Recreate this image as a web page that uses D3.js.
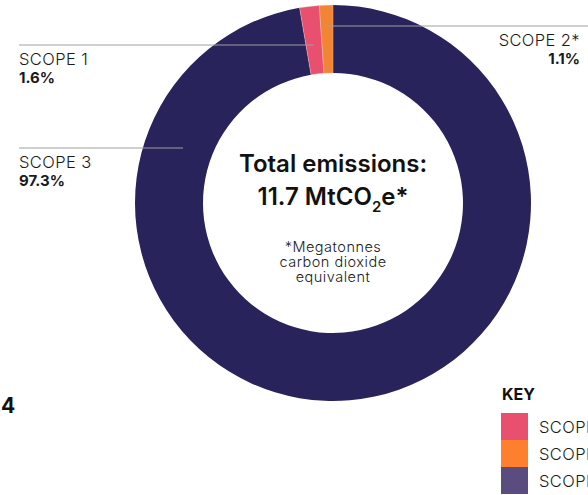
<!DOCTYPE html>
<html>
<head>
<meta charset="utf-8">
<script src="https://cdn.jsdelivr.net/npm/d3@7"></script>
<style>
  body { margin: 0; background: #fff; }
  svg { display: block; font-family: Inter, "Noto Sans", sans-serif; }
</style>
</head>
<body>
<div id="my_donut"></div>
<script>
// emissions split, clockwise from 12 o'clock
var scopes = ["SCOPE 3", "SCOPE 1", "SCOPE 2"];
var shares = [97.3, 1.6, 1.1];
var labelText = ["SCOPE 3", "SCOPE 1", "SCOPE 2*"];
var keyNames = ["SCOPE 1", "SCOPE 2", "SCOPE 3"];
var totalValue = "11.7";
var footnote = ["*Megatonnes", "carbon dioxide", "equivalent"];

var width = 588, height = 495;
var cx = 333, cy = 203, outerR = 198, innerR = 130;

var svg = d3.select("#my_donut")
  .append("svg")
    .attr("width", width)
    .attr("height", height);

var ringColor = d3.scaleOrdinal()
  .domain(scopes)
  .range(["#29235c", "#e9506f", "#f18534"]);

var keyColor = d3.scaleOrdinal()
  .domain(keyNames)
  .range(["#e9506f", "#fe7f2d", "#5a4c7e"]);

var pie = d3.pie().sort(null).value(function(d){ return d.v; });
var arcs = pie(scopes.map(function(s, i){ return {k: s, v: shares[i], label: labelText[i]}; }));
var arc = d3.arc().innerRadius(innerR).outerRadius(outerR);

var g = svg.append("g").attr("transform", "translate(" + cx + "," + cy + ")");

g.selectAll("path")
  .data(arcs)
  .enter()
  .append("path")
    .attr("d", arc)
    .style("fill", function(d){ return ringColor(d.data.k); })
    .style("stroke", function(d){ return d.data.k == "SCOPE 3" ? "none" : "#f4c9c4"; })
    .style("stroke-width", 0.4);

// leader lines + labels
var lineY = {"SCOPE 1": 45, "SCOPE 2": 26, "SCOPE 3": 148};
arcs.forEach(function(d){
  var k = d.data.k;
  var y = lineY[k];
  var right = k == "SCOPE 2";
  var ang = (d.startAngle + d.endAngle) / 2;
  // middle of the thin slices, inside the ring for scope 3
  var xm = k == "SCOPE 3" ? cx - innerR - 20 : cx + Math.tan(ang) * (cy - y);
  svg.append("line")
    .attr("x1", right ? width : 19).attr("x2", xm)
    .attr("y1", y).attr("y2", y)
    .style("stroke", "#a0a0a0").style("stroke-width", 1);
  var tx = right ? 580 : 19;
  var anchor = right ? "end" : "start";
  svg.append("text")
    .attr("x", tx).attr("y", y + 20)
    .attr("text-anchor", anchor)
    .style("font-size", "16.5px").style("font-weight", 300).style("letter-spacing", "0.4px")
    .style("fill", "#1a1a1a")
    .text(d.data.label);
  svg.append("text")
    .attr("x", tx).attr("y", y + 38)
    .attr("text-anchor", anchor)
    .style("font-size", "15px").style("font-weight", 700).style("fill", "#1a1a1a")
    .text(d.data.v + "%");
});

// centre text
svg.append("text")
  .attr("x", cx).attr("y", 172)
  .attr("text-anchor", "middle")
  .style("font-size", "24px").style("font-weight", 600).style("fill", "#111")
  .text("Total emissions:");

var t2 = svg.append("text")
  .attr("x", cx).attr("y", 205)
  .attr("text-anchor", "middle")
  .style("font-size", "24px").style("font-weight", 600).style("fill", "#111");
t2.append("tspan").text(totalValue + " MtCO");
t2.append("tspan").attr("dy", 7).style("font-size", "15px").text("2");
t2.append("tspan").attr("dy", -7).text("e*");

svg.selectAll(".foot")
  .data(footnote)
  .enter()
  .append("text")
    .attr("class", "foot")
    .attr("x", cx)
    .attr("y", function(d, i){ return 252 + i * 15; })
    .attr("text-anchor", "middle")
    .style("font-size", "14.5px").style("font-weight", 300).style("letter-spacing", "0.5px")
    .style("fill", "#1a1a1a")
    .text(function(d){ return d; });

// page number fragment
svg.append("text")
  .attr("x", 1).attr("y", 413)
  .style("font-size", "21px").style("font-weight", 700).style("fill", "#111")
  .text("4");

// key
svg.append("text")
  .attr("x", 502).attr("y", 400)
  .style("font-size", "16px").style("font-weight", 700).style("fill", "#111")
  .text("KEY");

var keyY = d3.scaleBand().domain(keyNames).range([413, 494]);

svg.selectAll(".keybox")
  .data(keyNames)
  .enter()
  .append("rect")
    .attr("class", "keybox")
    .attr("x", 501)
    .attr("y", function(d){ return keyY(d); })
    .attr("width", 27)
    .attr("height", keyY.bandwidth())
    .style("fill", function(d){ return keyColor(d); });

svg.selectAll(".keytext")
  .data(keyNames)
  .enter()
  .append("text")
    .attr("class", "keytext")
    .attr("x", 539)
    .attr("y", function(d){ return keyY(d) + keyY.bandwidth() / 2 + 6; })
    .style("font-size", "16.5px").style("font-weight", 300).style("letter-spacing", "0.4px")
    .style("fill", "#1a1a1a")
    .text(function(d){ return d; });
</script>
</body>
</html>
